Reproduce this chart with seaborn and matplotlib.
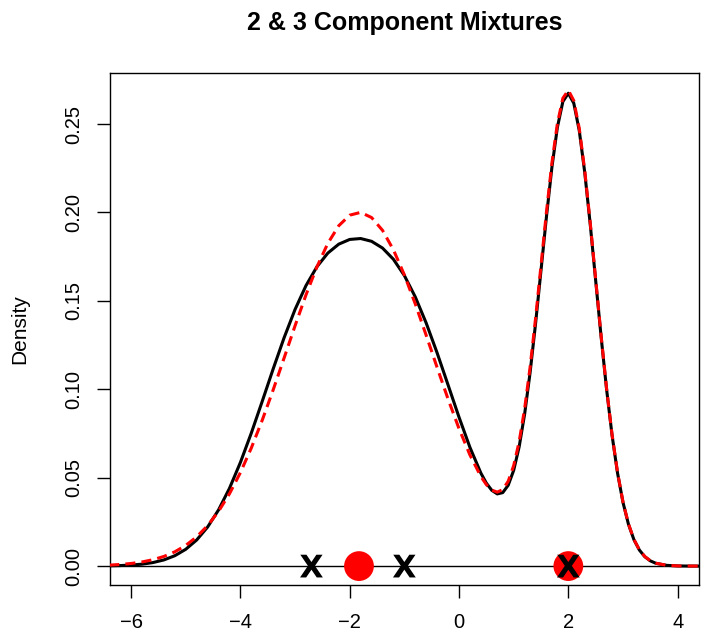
import matplotlib
matplotlib.use("Agg")
import matplotlib.pyplot as plt
import seaborn as sns

# x positions where the two densities were read off the chart
# (0.2 steps over the wide left hump, 0.1 steps over the narrow right peak)
x_grid = [-6.4, -6.2, -6.0, -5.8, -5.6, -5.4, -5.2, -5.0, -4.8, -4.6,
          -4.4, -4.2, -4.0, -3.8, -3.6, -3.4, -3.2, -3.0, -2.8, -2.6,
          -2.4, -2.2, -2.0, -1.8, -1.6, -1.4, -1.2, -1.0, -0.8, -0.6,
          -0.4, -0.2, 0.0, 0.2, 0.4, 0.5, 0.6, 0.7, 0.8, 0.9,
          1.0, 1.1, 1.2, 1.3, 1.4, 1.5, 1.6, 1.7, 1.8, 1.9,
          2.0, 2.1, 2.2, 2.3, 2.4, 2.5, 2.6, 2.7, 2.8, 2.9,
          3.0, 3.1, 3.2, 3.3, 3.4, 3.5, 3.6, 3.8, 4.0, 4.2, 4.4]

# 3 component mixture (solid black)
dens_3comp = [0.00014, 0.00029, 0.00058, 0.00109, 0.00199, 0.00348, 0.00586, 0.00949, 0.01476, 0.02208,
              0.03176, 0.04397, 0.05860, 0.07526, 0.09322, 0.11155, 0.12918, 0.14513, 0.15863, 0.16929,
              0.17704, 0.18208, 0.18474, 0.18526, 0.18369, 0.17988, 0.17352, 0.16433, 0.15222, 0.13742,
              0.12052, 0.10242, 0.08422, 0.06712, 0.05259, 0.04692, 0.04283, 0.04082, 0.04154, 0.04573,
              0.05413, 0.06739, 0.08584, 0.10931, 0.13695, 0.16718, 0.19767, 0.22563, 0.24816, 0.26268,
              0.26744, 0.26178, 0.24631, 0.22272, 0.19354, 0.16160, 0.12966, 0.09996, 0.07404, 0.05270,
              0.03604, 0.02368, 0.01495, 0.00907, 0.00529, 0.00296, 0.00159, 0.00041, 0.00009, 0.00002, 0.00000]

# 2 component mixture (dashed red)
dens_2comp = [0.00055, 0.00091, 0.00147, 0.00233, 0.00360, 0.00545, 0.00807, 0.01169, 0.01654, 0.02287,
              0.03093, 0.04090, 0.05287, 0.06681, 0.08254, 0.09969, 0.11772, 0.13590, 0.15337, 0.16923,
              0.18254, 0.19251, 0.19847, 0.20005, 0.19713, 0.18991, 0.17886, 0.16470, 0.14826, 0.13047,
              0.11226, 0.09444, 0.07774, 0.06284, 0.05066, 0.04609, 0.04298, 0.04183, 0.04325, 0.04799,
              0.05680, 0.07031, 0.08888, 0.11237, 0.13994, 0.17002, 0.20032, 0.22806, 0.25034, 0.26461,
              0.26913, 0.26324, 0.24754, 0.22376, 0.19440, 0.16231, 0.13024, 0.10042, 0.07441, 0.05299,
              0.03627, 0.02386, 0.01509, 0.00917, 0.00537, 0.00302, 0.00164, 0.00043, 0.00010, 0.00002, 0.00001]

# component means marked on the baseline
means_3comp = [-2.7, -1.0, 2.0]
means_2comp = [-1.83, 2.0]

x_ticks = [-6, -4, -2, 0, 2, 4]
y_ticks = [0.00, 0.05, 0.10, 0.15, 0.20, 0.25]

sns.set_style("ticks")
plt.rcParams["font.family"] = ["Liberation Sans", "DejaVu Sans"]
plt.rcParams["text.color"] = "black"
plt.rcParams["axes.labelcolor"] = "black"
plt.rcParams["xtick.color"] = "black"
plt.rcParams["ytick.color"] = "black"

fig = plt.figure(figsize=(7.09, 6.43), dpi=100)
ax = fig.add_axes([0.1552, 0.0902, 0.8314, 0.7955])

ax.axhline(0, color="black", linewidth=1.0, zorder=1)

sns.lineplot(x=x_grid, y=dens_3comp, color="black", linewidth=2.2,
             estimator=None, errorbar=None, ax=ax, zorder=2)
sns.lineplot(x=x_grid, y=dens_2comp, color="red", linewidth=2.2,
             estimator=None, errorbar=None, ax=ax, zorder=3)
ax.lines[-1].set_dashes([3.3, 2.0])

sns.scatterplot(x=means_2comp, y=[0.0] * len(means_2comp), color="red", s=460,
                edgecolor="none", linewidth=0, ax=ax, zorder=4)
sns.scatterplot(x=means_3comp, y=[0.0] * len(means_3comp), color="black",
                marker=r"$\mathbf{X}$", s=270, edgecolor="none", linewidth=0,
                ax=ax, zorder=5)

ax.set_xlim(-6.385, 4.40)
ax.set_ylim(-0.0107, 0.2786)
ax.set_xticks(x_ticks)
ax.set_yticks(y_ticks)
ax.set_yticklabels([f"{v:.2f}" for v in y_ticks], rotation=90, va="center")

ax.tick_params(axis="both", direction="out", length=9.5, width=1.0, color="black")
ax.tick_params(axis="x", labelsize=14.5, pad=11)
ax.tick_params(axis="y", labelsize=14.5, pad=9.5)

for side in ["left", "right", "top", "bottom"]:
    ax.spines[side].set_visible(True)
    ax.spines[side].set_color("black")
    ax.spines[side].set_linewidth(1.0)

ax.set_xlabel("")
ax.set_ylabel("Density", fontsize=15)
ax.yaxis.set_label_coords(-0.1375, 0.5)
ax.set_title("2 & 3 Component Mixtures", fontsize=18, fontweight="bold", pad=31)

fig.savefig("out.png", dpi=100)
